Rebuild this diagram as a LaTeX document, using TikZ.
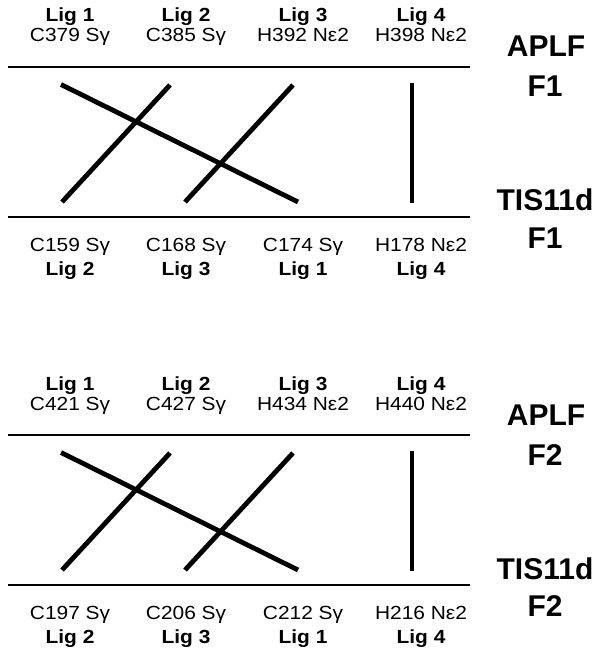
\documentclass[tikz,border=0pt]{standalone}
\usepackage{fontspec}
\setmainfont{Liberation Sans}
\newfontfamily\ligfont[FakeStretch=1.1]{Liberation Sans}
\usetikzlibrary{positioning}
\tikzset{
  ligtext/.style={font=\ligfont\fontsize{19}{21}\selectfont\bfseries,
    anchor=base,inner sep=0pt},
  atomtext/.style={font=\ligfont\fontsize{19}{21}\selectfont,
    anchor=base,inner sep=0pt},
  protname/.style={font=\fontsize{30}{34}\selectfont\bfseries,
    anchor=base,inner sep=0pt},
  rulerline/.style={line width=2.2pt},
  ligline/.style={line width=4.8pt},
}

\begin{document}
\begin{tikzpicture}[x=1pt,y=-1pt]
  \useasboundingbox (0,0) rectangle (601,652);
  \foreach \blk/\dy/\fr/\tA/\tB/\tC/\tD/\bA/\bB/\bC/\bD in
    {1/0/F1/C379 Sγ/C385 Sγ/H392 Nε2/H398 Nε2/C159 Sγ/C168 Sγ/C174 Sγ/H178 Nε2,
     2/368/F2/C421 Sγ/C427 Sγ/H434 Nε2/H440 Nε2/C197 Sγ/C206 Sγ/C212 Sγ/H216 Nε2}{
  \begin{scope}[shift={(0,\dy)}]
    % APLF side
    \node[ligtext](tl1-\blk)at(70,22){Lig 1};
    \node[ligtext](tl2-\blk)at(186,22){Lig 2};
    \node[ligtext](tl3-\blk)at(303,22){Lig 3};
    \node[ligtext](tl4-\blk)at(421,22){Lig 4};
    \node[atomtext](ta1-\blk)at(70,42){\tA};
    \node[atomtext](ta2-\blk)at(186,42){\tB};
    \node[atomtext](ta3-\blk)at(303,42){\tC};
    \node[atomtext](ta4-\blk)at(421,42){\tD};
    \node[protname](ap-\blk)at(546,57){APLF};
    \node[protname](apf-\blk)at(545,97){\fr};
    \draw[rulerline](8,67.3)coordinate(topL-\blk)--(470,67.3)coordinate(topR-\blk);
    % TIS11d side
    \node[atomtext](ba1-\blk)at(70,251){\bA};
    \node[atomtext](ba2-\blk)at(186,251){\bB};
    \node[atomtext](ba3-\blk)at(303,251){\bC};
    \node[atomtext](ba4-\blk)at(421,251){\bD};
    \node[ligtext](bl1-\blk)at(70,275){Lig 2};
    \node[ligtext](bl2-\blk)at(186,275){Lig 3};
    \node[ligtext](bl3-\blk)at(303,275){Lig 1};
    \node[ligtext](bl4-\blk)at(421,275){Lig 4};
    \node[protname](ts-\blk)at(545,211){TIS11d};
    \node[protname](tsf-\blk)at(545,248){\fr};
    \draw[rulerline](8,217)coordinate(botL-\blk)--(470,217)coordinate(botR-\blk);
    % ligand pairings
    \coordinate(s1-\blk)at(61,84.5);  \coordinate(e1-\blk)at(298,202);
    \coordinate(s2-\blk)at(170,85);   \coordinate(e2-\blk)at(62,202);
    \coordinate(s3-\blk)at(293,85);   \coordinate(e3-\blk)at(185,202);
    \coordinate(s4-\blk)at(412,83);   \coordinate(e4-\blk)at(412,203);
    \foreach \k in {1,...,4}
      \draw[ligline](s\k-\blk)--(e\k-\blk);
  \end{scope}}
\end{tikzpicture}
\end{document}
